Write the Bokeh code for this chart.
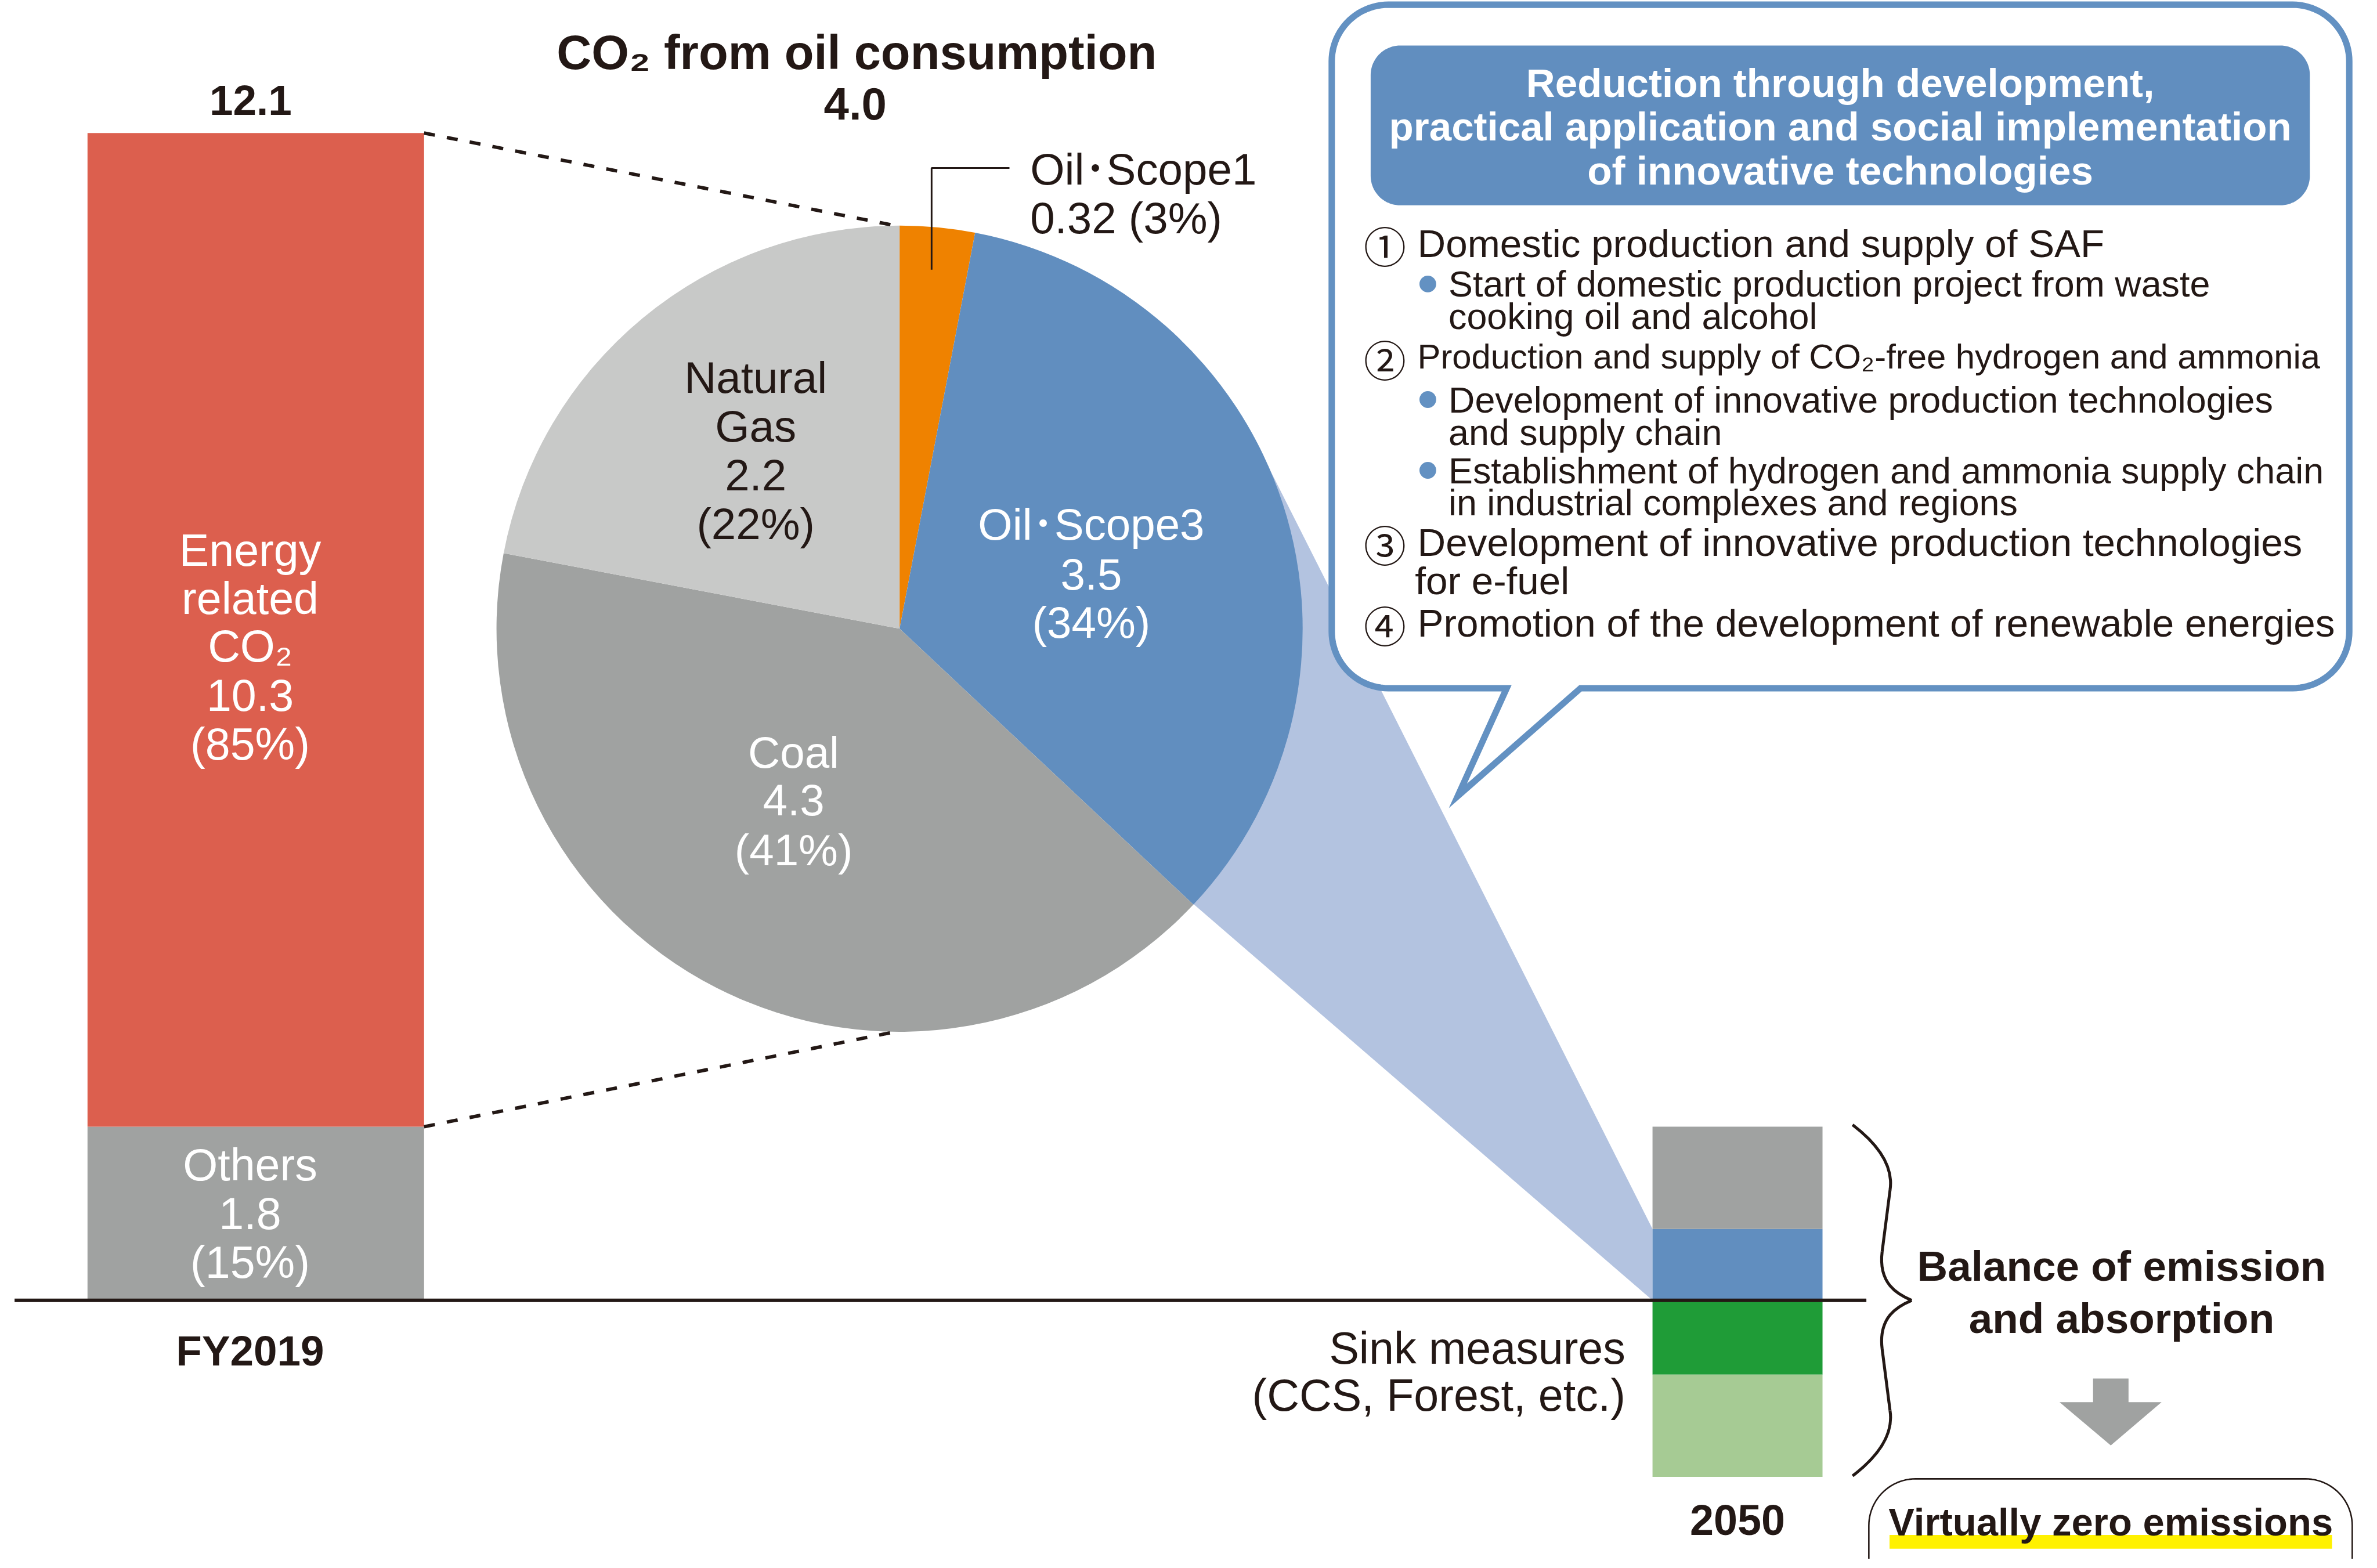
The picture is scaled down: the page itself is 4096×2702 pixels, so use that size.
import numpy as np
from bokeh.plotting import figure
from bokeh.models import Range1d, ColumnDataSource
from bokeh.core.properties import value
from bokeh.embed import file_html
from bokeh.resources import INLINE

# ---------------- data ----------------
fy2019_label = "FY2019"
fy2019_total = 12.1
fy2019_categories = ["Others", "Energy related CO₂"]
fy2019_values = [1.8, 10.3]
fy2019_shares = [15, 85]

oil_title = "CO₂ from oil consumption"
oil_total = 4.0
pie_categories = ["Oil･Scope1", "Oil･Scope3", "Coal", "Natural Gas"]
pie_values = [0.32, 3.5, 4.3, 2.2]
pie_shares = [3, 34, 41, 22]

y2050_label = "2050"
y2050_emission_categories = ["Oil･Scope3 (remaining)", "Others (remaining)"]
y2050_emissions = [0.74, 1.06]
y2050_sink_categories = ["CCS", "Forest, etc."]
y2050_sinks = [0.77, 1.06]

box_title = ["Reduction through development,",
             "practical application and social implementation",
             "of innovative technologies"]
measures = [
    ("①", ["Domestic production and supply of SAF"],
     [["Start of domestic production project from waste", "cooking oil and alcohol"]]),
    ("②", ["Production and supply of CO₂-free hydrogen and ammonia"],
     [["Development of innovative production technologies", "and supply chain"],
      ["Establishment of hydrogen and ammonia supply chain", "in industrial complexes and regions"]]),
    ("③", ["Development of innovative production technologies", "for e-fuel"], []),
    ("④", ["Promotion of the development of renewable energies"], []),
]

# ---------------- style ----------------
S = 0.848
FONT = "Liberation Sans"
CJK = "Noto Sans CJK JP"
DARK = "#231815"
RED = "#DC5F4E"
GRAY = "#A0A2A1"
LGRAY = "#C8C9C8"
ORANGE = "#EF8200"
BLUE = "#618EBF"
LBLUE = "#B3C3E0"
GREEN = "#1F9C37"
LGREEN = "#A6CB94"
YELLOW = "#FFF100"


def px(v):
    return f"{v * S:.1f}px"


p = figure(width=4080, height=2686, x_range=Range1d(0, 4805), y_range=Range1d(3170, 0),
           output_backend="svg", toolbar_location=None, x_axis_type=None, y_axis_type=None,
           min_border=0, outline_line_color=None)
p.grid.visible = False
p.background_fill_color = "white"
p.border_fill_color = "white"


def add_text(xs, ys, texts, size, color=DARK, bold=False, align="center", font=FONT):
    src = ColumnDataSource(dict(x=list(xs), y=list(ys), text=list(texts)))
    p.text(x="x", y="y", text="text", source=src, text_font=value(font),
           text_font_size=px(size), text_font_style="bold" if bold else "normal",
           text_color=color, text_align=align, text_baseline="middle")


def rounded_path(x0, y0, x1, y1, r, tail=None, n=24):
    xs, ys = [], []

    def arc(cx, cy, a0, a1):
        for a in np.linspace(np.radians(a0), np.radians(a1), n):
            xs.append(cx + r * np.cos(a))
            ys.append(cy + r * np.sin(a))
    arc(x1 - r, y0 + r, -90, 0)
    arc(x1 - r, y1 - r, 0, 90)
    if tail:
        for tx, ty in tail:
            xs.append(tx)
            ys.append(ty)
    arc(x0 + r, y1 - r, 90, 180)
    arc(x0 + r, y0 + r, 180, 270)
    return xs, ys


# scale of the stacked bars (reference pixels per unit)
BASE = 2644
UNIT = (BASE - 270) / fy2019_total

# pie geometry
CX, CY, R = 1825, 1278, 818
cum = np.concatenate([[0], np.cumsum(pie_shares)]) / 100.0

# 2050 bar geometry
X50, W50 = 3525.5, 345
blue_top = BASE - y2050_emissions[0] * UNIT

# ---- light blue projection (behind everything) ----
th_lo = 2 * np.pi * cum[2]
p_lo = (CX + R * np.sin(th_lo), CY - R * np.cos(th_lo))
th_hi = np.radians(60)
p_hi = (CX + R * np.sin(th_hi), CY - R * np.cos(th_hi))
p.patch([p_hi[0], X50 - W50 / 2, X50 - W50 / 2, p_lo[0]],
        [p_hi[1], blue_top, BASE, p_lo[1]], fill_color=LBLUE, line_color=None)

# ---- speech bubble ----
bx, by = rounded_path(2702, 9, 4767, 1399, 115,
                      tail=[(3207, 1399), (2958, 1618), (3057, 1399)])
p.patch(bx, by, fill_color="white", line_color="#6391C2", line_width=13 * S,
        line_join="miter")
tx, ty = rounded_path(2781, 92, 4687, 417, 60)
p.patch(tx, ty, fill_color=BLUE, line_color=None)
add_text([3734] * 3, [168, 257, 346], box_title, 81.5, color="white", bold=True)

main_x, sub_x, num_x, bullet_x = 2876, 2939, 2810, 2897
main_y = [[494], [725], [1102, 1180], [1266]]
sub_y = [[[577, 643]], [[812, 879], [956, 1022]], [], []]
for (num, lines, subs), my, sy in zip(measures, main_y, sub_y):
    add_text([num_x], [my[0] + 2], [num], 86, font=CJK)
    size = 70.5 if len(lines[0]) > 52 else 79.5
    xs = [main_x] + [main_x - 5] * (len(lines) - 1)
    add_text(xs, my, lines, size, align="left")
    for sub, yy in zip(subs, sy):
        p.scatter([bullet_x], [yy[0]], size=34 * S, marker="circle",
                  fill_color="#6391C2", line_color=None)
        add_text([sub_x] * len(sub), yy, sub, 74, align="left")

# ---- FY2019 stacked bar ----
bottoms = BASE - np.concatenate([[0], np.cumsum(fy2019_values)[:-1]]) * UNIT
tops = BASE - np.cumsum(fy2019_values) * UNIT
p.vbar(x=[518.5] * 2, width=683, bottom=bottoms, top=tops, fill_color=[GRAY, RED],
       line_color=None)

# ---- pie ----
starts = np.pi / 2 - 2 * np.pi * cum[:-1]
ends = np.pi / 2 - 2 * np.pi * cum[1:]
p.wedge(x=CX, y=CY, radius=R, start_angle=starts, end_angle=ends, direction="clock",
        fill_color=[ORANGE, BLUE, GRAY, LGRAY], line_color=None)

# dashed connectors
bar_right = 518.5 + 683 / 2
p.segment(x0=[bar_right, bar_right], y0=[tops[1], tops[0]],
          x1=[CX, CX], y1=[CY - R, CY + R], line_color=DARK, line_width=7 * S,
          line_dash="19 21")

# ---- 2050 bar ----
e_cum = np.concatenate([[0], np.cumsum(y2050_emissions)])
s_cum = np.concatenate([[0], np.cumsum(y2050_sinks)])
p.vbar(x=[X50] * 4, width=W50,
       bottom=list(BASE - e_cum[:-1] * UNIT) + list(BASE + s_cum[:-1] * UNIT),
       top=list(BASE - e_cum[1:] * UNIT) + list(BASE + s_cum[1:] * UNIT),
       fill_color=[BLUE, GRAY, GREEN, LGREEN], line_color=None)

# baseline
p.segment(x0=[29], y0=[BASE], x1=[3787], y1=[BASE], line_color=DARK, line_width=7 * S)

# Oil Scope1 leader
p.line([1890, 1890, 2048], [548, 341, 341], line_color=DARK, line_width=3.5 * S)

# brace
bz = dict(
    x0=[3759, 3819, 3879, 3835], y0=[2287, 2545, 2644, 2868],
    x1=[3835, 3879, 3819, 3759], y1=[2420, 2644, 2743, 3001],
    cx0=[3815, 3811, 3850, 3842], cy0=[2330, 2610, 2656, 2913],
    cx1=[3842, 3850, 3811, 3815], cy1=[2375, 2632, 2678, 2958])
p.bezier(line_color=DARK, line_width=6 * S, **bz)
p.segment(x0=[3835, 3819], y0=[2420, 2743], x1=[3819, 3835], y1=[2545, 2868],
          line_color=DARK, line_width=6 * S)

# gray arrow
p.patch([4247, 4319, 4319, 4386, 4283, 4179, 4247],
        [2803, 2803, 2851, 2851, 2939, 2851, 2851], fill_color=GRAY, line_color=None)

# virtually zero box
vx, vy = rounded_path(3792, 3007, 4773, 3280, 95)
p.patch(vx, vy, fill_color=None, line_color=DARK, line_width=3 * S)
p.quad(left=[3834], right=[4732], top=[3121], bottom=[3149], fill_color=YELLOW,
       line_color=None)

# ---------------- texts ----------------
add_text([508], [203], [f"{fy2019_total}"], 86, bold=True)
add_text([507] * 5, [1118, 1216, 1313, 1413, 1513],
         ["Energy", "related", "CO₂", f"{fy2019_values[1]}", f"({fy2019_shares[1]}%)"],
         91, color="white")
add_text([507] * 3, [2368, 2467, 2566],
         [fy2019_categories[0], f"{fy2019_values[0]}", f"({fy2019_shares[0]}%)"],
         91, color="white")
add_text([507], [2746], [fy2019_label], 86, bold=True)

add_text([1738], [106], [oil_title], 98, bold=True)
add_text([1735], [211], [f"{oil_total}"], 92, bold=True)
add_text([2090, 2090], [343, 443],
         [pie_categories[0], f"{pie_values[0]} ({pie_shares[0]}%)"], 90, align="left",
         font=FONT + ", " + CJK)
add_text([2214] * 3, [1066, 1167, 1265],
         [pie_categories[1], f"{pie_values[1]}", f"({pie_shares[1]}%)"], 90,
         color="white", font=FONT + ", " + CJK)
add_text([1610] * 3, [1529, 1626, 1728],
         [pie_categories[2], f"{pie_values[2]}", f"({pie_shares[2]}%)"], 90,
         color="white")
add_text([1533] * 4, [767, 866, 965, 1065],
         ["Natural", "Gas", f"{pie_values[3]}", f"({pie_shares[3]}%)"], 90)

add_text([3298, 3298], [2741, 2837], ["Sink measures", "(CCS, Forest, etc.)"], 91,
         align="right")
add_text([X50], [3090], [y2050_label], 87, bold=True)
add_text([4305, 4305], [2574, 2680], ["Balance of emission", "and absorption"], 86,
         bold=True)
add_text([4283], [3094], ["Virtually zero emissions"], 79, bold=True)

open("out.html", "w").write(file_html(p, INLINE))
